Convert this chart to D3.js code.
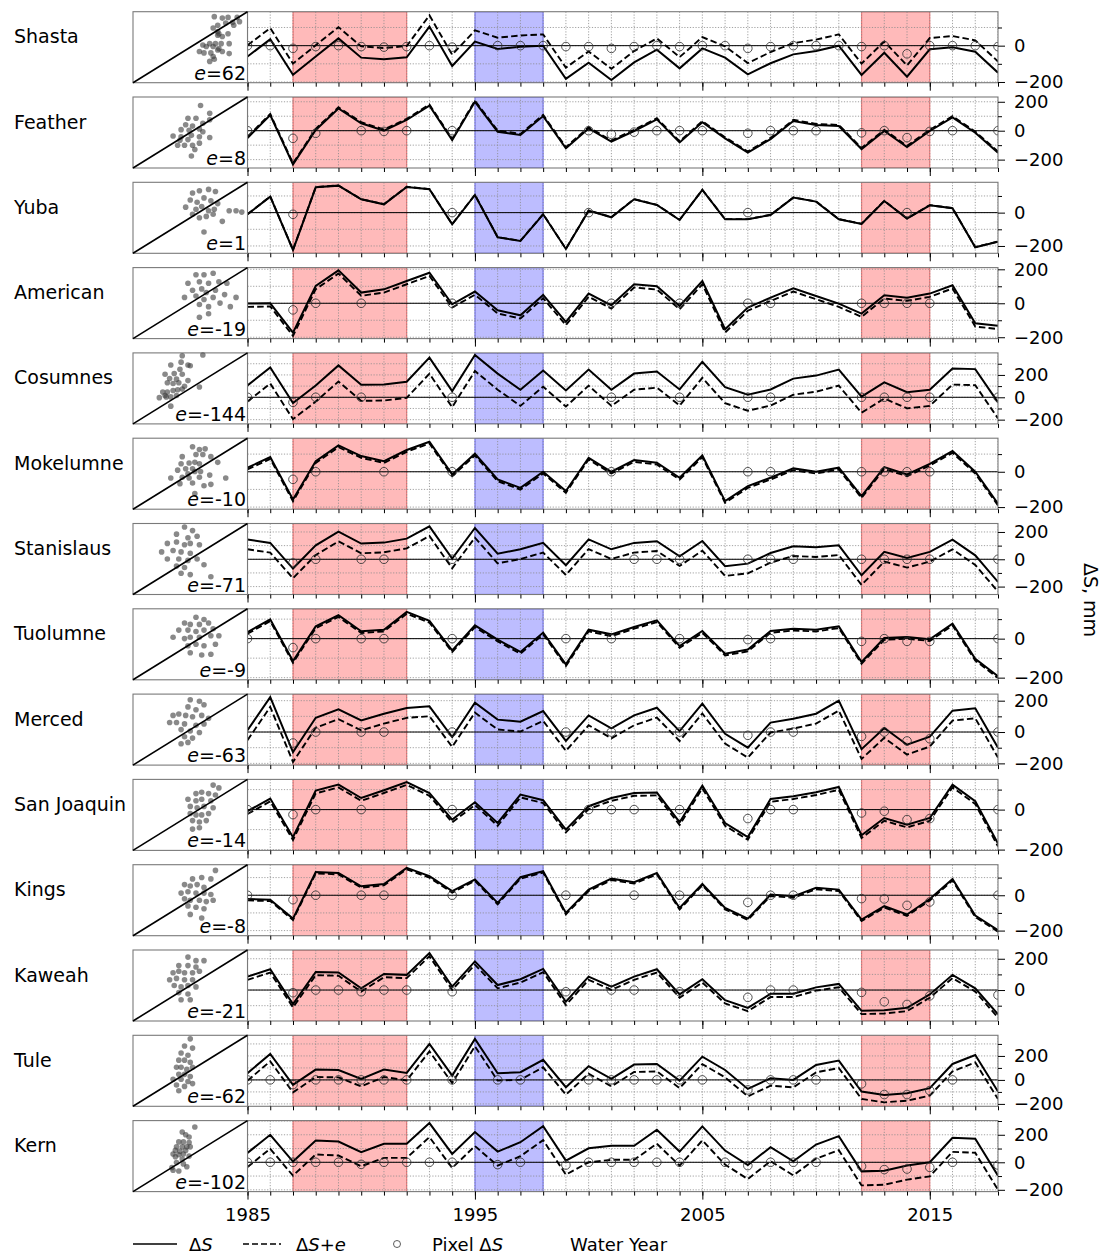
<!DOCTYPE html>
<html><head><meta charset="utf-8">
<script src="https://cdn.jsdelivr.net/npm/d3@7"></script>
<style>body{margin:0;background:#fff} text{font-family:"DejaVu Sans",sans-serif}</style>
</head><body><svg id="c" width="1101" height="1255"></svg>
<script>
// ---------------- data ----------------
const years = [1985,1986,1987,1988,1989,1990,1991,1992,1993,1994,1995,1996,1997,1998,1999,2000,2001,2002,2003,2004,2005,2006,2007,2008,2009,2010,2011,2012,2013,2014,2015,2016,2017,2018];
const basins = ["Shasta","Feather","Yuba","American","Cosumnes","Mokelumne","Stanislaus","Tuolumne","Merced","San Joaquin","Kings","Kaweah","Tule","Kern"];
const eValues = [62, 8, 1, -19, -144, -10, -71, -9, -63, -14, -8, -21, -62, -102];
const majorYearTicks = [1985, 1995, 2005, 2015];
const droughts = [[1987,1992],[2012,2015]];
const wetPeriods = [[1995,1998]];

const dsShasta = [-60,35,-161,-60,40,-66,-75,-64,105,-112,22,-18,-6,0,-183,-94,-189,-92,-22,-125,-15,-66,-158,-97,-48,-29,0,-161,-39,-171,-20,-9,-33,-149];
const dsFeather = [-50,108,-233,5,154,51,0,74,173,-65,200,-7,-30,101,-122,16,-76,-2,78,-81,58,-53,-152,-58,67,39,32,-127,-2,-113,-2,92,-14,-152];
const dsYuba = [-10,96,-224,152,162,80,50,154,140,-70,106,-148,-170,-10,-218,12,-28,80,46,-44,136,-40,-40,-14,90,66,-40,-68,70,-36,44,26,-208,-174];
const dsAmerican = [-2,0,-173,102,194,63,82,131,180,-6,69,-41,-71,49,-110,57,-12,112,100,-16,131,-153,-25,33,88,43,-2,-61,47,33,57,106,-118,-133];
const dsCosumnes = [106,267,-52,106,285,112,115,139,355,55,379,212,67,239,61,248,67,212,230,70,318,91,24,70,167,194,248,6,133,45,67,258,252,-45];
const dsMokelumne = [23,83,-157,60,149,89,60,123,170,-15,102,-43,-91,0,-109,79,0,66,51,-34,92,-166,-81,-34,19,0,23,-138,26,-15,45,117,0,-181];
const dsStanislaus = [144,120,-68,102,202,115,122,151,241,5,229,41,73,120,-44,146,73,120,132,22,134,-51,-32,46,95,88,102,-117,54,10,54,144,29,-166];
const dsTuolumne = [34,99,-115,63,120,38,46,137,91,-60,68,-5,-68,31,-132,46,22,60,94,-38,39,-77,-56,39,51,46,63,-120,3,9,-3,77,-103,-193];
const dsMerced = [11,223,-128,91,145,74,117,153,164,-32,187,79,66,134,-57,106,23,106,155,6,181,-11,-100,60,85,117,200,-109,26,-81,-30,136,151,-100];
const dsSanJoaquin = [-8,55,-138,95,125,58,97,138,83,-50,37,-67,75,47,-100,17,58,83,85,-63,120,-67,-137,53,67,87,113,-128,-42,-75,-42,125,42,-170];
const dsKings = [-21,-25,-132,132,126,51,64,155,108,23,89,-43,102,136,-100,32,94,74,126,-72,64,-72,-132,4,-6,42,32,-138,-62,-109,-21,92,-115,-198];
const dsKaweah = [86,133,-90,116,112,11,103,97,237,22,183,32,69,135,-75,86,22,86,133,-28,69,-65,-114,-24,-24,17,39,-133,-129,-114,-28,97,11,-155];
const dsTule = [56,217,-42,86,83,8,86,58,300,36,342,56,64,167,-61,114,8,128,133,-6,194,83,-75,14,0,125,161,-97,-125,-111,-69,133,208,-97];
const dsKern = [68,200,5,159,151,73,134,134,285,61,220,78,146,263,12,102,120,120,237,78,261,85,-20,110,7,129,190,-66,-61,-24,0,178,171,-98];
const dsSeries = [dsShasta,dsFeather,dsYuba,dsAmerican,dsCosumnes,dsMokelumne,dsStanislaus,dsTuolumne,dsMerced,dsSanJoaquin,dsKings,dsKaweah,dsTule,dsKern];

// Pixel ΔS: [year, value]
const pxShasta = [[1985,0],[1986,0],[1987,-15],[1988,-5],[1989,0],[1990,-5],[1991,-8],[1992,-5],[1993,0],[1994,-8],[1996,0],[1997,0],[1998,0],[1999,-5],[2000,-5],[2001,-15],[2002,-5],[2003,0],[2004,-5],[2005,0],[2006,0],[2007,-15],[2008,-5],[2009,0],[2010,0],[2011,0],[2012,-5],[2013,0],[2014,-45],[2015,0],[2016,0],[2017,0],[2018,-5]];
const pxFeather = [[1985,0],[1987,-53],[1988,-18],[1990,0],[1991,-5],[1992,0],[1994,0],[2000,0],[2001,-25],[2002,-10],[2003,0],[2004,0],[2005,0],[2007,-18],[2008,0],[2009,0],[2010,0],[2012,-15],[2013,0],[2014,-48],[2015,-5],[2016,0],[2018,0]];
const pxYuba = [[1987,-10],[1994,0],[2000,0],[2007,0],[2014,0]];
const pxAmerican = [[1987,-39],[1988,0],[1990,0],[1994,0],[2001,0],[2004,0],[2007,0],[2008,0],[2012,0],[2013,0],[2014,0],[2015,0]];
const pxCosumnes = [[1985,0],[1987,-45],[1988,0],[1990,0],[1994,0],[2001,0],[2004,0],[2007,0],[2008,0],[2012,0],[2013,0],[2014,0],[2015,0],[2018,0]];
const pxMokelumne = [[1987,-43],[1988,0],[1991,0],[1994,0],[2001,0],[2007,0],[2008,0],[2012,0],[2013,0],[2014,0],[2015,0]];
const pxStanislaus = [[1987,-27],[1988,0],[1990,0],[1991,0],[1994,0],[2002,0],[2003,0],[2004,0],[2007,0],[2008,0],[2009,0],[2012,0],[2013,0],[2014,0],[2015,0],[2018,0]];
const pxTuolumne = [[1985,0],[1987,-46],[1988,0],[1990,0],[1991,0],[1994,0],[1999,0],[2001,0],[2004,0],[2007,-5],[2008,0],[2012,-14],[2013,0],[2014,-14],[2015,-14],[2018,0]];
const pxMerced = [[1987,-70],[1988,0],[1990,0],[1991,0],[1994,0],[1999,0],[2001,0],[2004,0],[2007,-21],[2008,0],[2009,0],[2012,-28],[2013,0],[2014,-57],[2015,-43],[2018,0]];
const pxSanJoaquin = [[1985,0],[1987,-25],[1988,0],[1990,0],[1994,0],[2000,0],[2001,0],[2002,0],[2004,0],[2007,-45],[2008,0],[2009,0],[2012,-17],[2013,-8],[2014,-50],[2015,-45],[2018,0]];
const pxKings = [[1985,0],[1987,-25],[1988,0],[1990,0],[1991,0],[1994,0],[1999,0],[2002,0],[2004,0],[2007,-40],[2008,0],[2009,0],[2012,-19],[2013,-21],[2014,-57],[2015,-38],[2018,0]];
const pxKaweah = [[1987,-17],[1988,0],[1989,0],[1990,-11],[1991,0],[1992,0],[1994,-11],[1999,-11],[2001,0],[2002,0],[2004,-11],[2007,-47],[2008,0],[2009,0],[2012,-15],[2013,-75],[2014,-92],[2015,-37],[2018,-32]];
const pxTule = [[1985,0],[1986,0],[1987,-39],[1988,0],[1989,0],[1990,0],[1991,0],[1992,0],[1994,0],[1996,0],[1997,0],[2000,0],[2001,0],[2002,0],[2003,0],[2004,0],[2005,0],[2007,-83],[2008,0],[2009,0],[2010,0],[2012,-33],[2013,-122],[2014,-122],[2015,-89],[2016,0]];
const pxKern = [[1985,0],[1986,0],[1987,0],[1988,0],[1989,0],[1990,-15],[1991,0],[1992,0],[1993,0],[1994,0],[1996,-17],[1997,0],[1999,-20],[2000,0],[2001,0],[2002,0],[2003,0],[2004,0],[2006,0],[2007,-24],[2008,0],[2009,0],[2010,0],[2012,-29],[2013,-53],[2014,-49],[2015,-37],[2016,0],[2018,-20]];
const pxSeries = [pxShasta,pxFeather,pxYuba,pxAmerican,pxCosumnes,pxMokelumne,pxStanislaus,pxTuolumne,pxMerced,pxSanJoaquin,pxKings,pxKaweah,pxTule,pxKern];

// y-axis ranges (mm) of each panel
const yDomains = [[-204,187],[-258,233],[-244,182],[-208,210],[-238,397],[-212,190],[-258,262],[-211,153],[-211,242],[-204,151],[-229,173],[-198,256],[-220,372],[-213,303]];

// scatter insets, normalised to the 1:1 box
const scShasta = [[0.71,0.93],[0.78,0.91],[0.83,0.92],[0.91,0.92],[0.87,0.85],[0.81,0.84],[0.74,0.81],[0.70,0.77],[0.75,0.69],[0.83,0.69],[0.74,0.67],[0.78,0.65],[0.67,0.55],[0.72,0.55],[0.77,0.55],[0.84,0.55],[0.61,0.53],[0.64,0.51],[0.70,0.51],[0.75,0.48],[0.58,0.44],[0.62,0.42],[0.68,0.42],[0.74,0.46],[0.78,0.44],[0.84,0.41],[0.70,0.37],[0.67,0.30],[0.71,0.33],[0.88,0.81],[0.93,0.86],[0.74,0.72]];
const scFeather = [[0.59,0.88],[0.48,0.70],[0.55,0.70],[0.67,0.77],[0.46,0.61],[0.52,0.59],[0.61,0.63],[0.42,0.54],[0.49,0.53],[0.58,0.55],[0.35,0.45],[0.42,0.44],[0.51,0.46],[0.58,0.44],[0.67,0.43],[0.39,0.32],[0.45,0.32],[0.52,0.32],[0.58,0.35],[0.41,0.39],[0.48,0.40],[0.51,0.17],[0.54,0.26],[0.67,0.68],[0.61,0.51]];
const scYuba = [[0.52,0.85],[0.58,0.88],[0.66,0.90],[0.72,0.87],[0.50,0.75],[0.56,0.72],[0.62,0.78],[0.68,0.74],[0.74,0.70],[0.46,0.65],[0.55,0.62],[0.60,0.66],[0.66,0.60],[0.71,0.62],[0.84,0.60],[0.90,0.60],[0.95,0.58],[0.58,0.50],[0.64,0.52],[0.78,0.45],[0.62,0.30],[0.70,0.55],[0.52,0.55]];
const scAmerican = [[0.55,0.90],[0.62,0.90],[0.70,0.92],[0.48,0.78],[0.58,0.80],[0.66,0.78],[0.75,0.80],[0.82,0.78],[0.52,0.68],[0.60,0.70],[0.64,0.65],[0.72,0.68],[0.80,0.62],[0.90,0.58],[0.45,0.58],[0.55,0.60],[0.62,0.55],[0.70,0.58],[0.76,0.50],[0.58,0.48],[0.66,0.45],[0.85,0.45],[0.58,0.30],[0.66,0.35]];
const scCosumnes = [[0.43,0.96],[0.61,0.97],[0.33,0.83],[0.42,0.87],[0.48,0.83],[0.50,0.82],[0.41,0.77],[0.28,0.70],[0.36,0.71],[0.43,0.70],[0.32,0.64],[0.38,0.63],[0.48,0.61],[0.30,0.58],[0.35,0.57],[0.40,0.58],[0.58,0.52],[0.26,0.45],[0.30,0.45],[0.35,0.47],[0.39,0.48],[0.43,0.49],[0.23,0.37],[0.29,0.38],[0.33,0.38],[0.38,0.40],[0.33,0.25],[0.45,0.53],[0.28,0.40]];
const scMokelumne = [[0.52,0.88],[0.58,0.84],[0.63,0.85],[0.43,0.74],[0.55,0.77],[0.61,0.77],[0.68,0.74],[0.42,0.64],[0.49,0.65],[0.54,0.66],[0.58,0.64],[0.46,0.57],[0.52,0.57],[0.74,0.66],[0.39,0.55],[0.48,0.50],[0.54,0.53],[0.59,0.53],[0.67,0.48],[0.33,0.44],[0.43,0.45],[0.49,0.44],[0.58,0.45],[0.41,0.36],[0.52,0.37],[0.62,0.33],[0.68,0.35],[0.81,0.44],[0.54,0.22]];
const scStanislaus = [[0.45,0.95],[0.52,0.90],[0.38,0.85],[0.48,0.80],[0.56,0.82],[0.30,0.72],[0.38,0.74],[0.45,0.70],[0.50,0.72],[0.58,0.70],[0.25,0.60],[0.35,0.62],[0.42,0.60],[0.50,0.58],[0.30,0.50],[0.40,0.50],[0.48,0.48],[0.56,0.50],[0.38,0.40],[0.45,0.38],[0.62,0.42],[0.42,0.30],[0.50,0.28],[0.68,0.25]];
const scTuolumne = [[0.55,0.88],[0.62,0.85],[0.45,0.80],[0.50,0.78],[0.58,0.78],[0.66,0.80],[0.40,0.70],[0.48,0.70],[0.55,0.68],[0.62,0.70],[0.70,0.72],[0.35,0.60],[0.45,0.58],[0.50,0.60],[0.58,0.60],[0.68,0.62],[0.75,0.62],[0.48,0.48],[0.55,0.50],[0.62,0.48],[0.72,0.50],[0.50,0.38],[0.60,0.35],[0.68,0.36]];
const scMerced = [[0.50,0.92],[0.58,0.90],[0.62,0.85],[0.48,0.82],[0.55,0.78],[0.35,0.70],[0.40,0.72],[0.46,0.70],[0.52,0.68],[0.60,0.70],[0.66,0.66],[0.32,0.60],[0.38,0.60],[0.45,0.58],[0.55,0.56],[0.62,0.58],[0.42,0.50],[0.50,0.48],[0.58,0.46],[0.45,0.40],[0.52,0.38],[0.42,0.30],[0.48,0.32]];
const scSanJoaquin = [[0.70,0.92],[0.75,0.88],[0.55,0.80],[0.60,0.82],[0.66,0.80],[0.72,0.78],[0.48,0.72],[0.55,0.70],[0.60,0.72],[0.68,0.70],[0.50,0.62],[0.56,0.60],[0.62,0.62],[0.70,0.60],[0.50,0.52],[0.55,0.50],[0.60,0.50],[0.66,0.52],[0.52,0.42],[0.58,0.40],[0.64,0.42],[0.52,0.30],[0.58,0.32]];
const scKings = [[0.72,0.92],[0.52,0.80],[0.60,0.82],[0.68,0.80],[0.45,0.72],[0.50,0.70],[0.56,0.72],[0.62,0.68],[0.42,0.60],[0.48,0.62],[0.55,0.60],[0.62,0.60],[0.68,0.58],[0.45,0.52],[0.50,0.50],[0.58,0.50],[0.64,0.48],[0.70,0.50],[0.48,0.42],[0.55,0.40],[0.62,0.38],[0.50,0.30],[0.60,0.25]];
const scKaweah = [[0.48,0.90],[0.55,0.85],[0.62,0.85],[0.40,0.78],[0.48,0.78],[0.55,0.76],[0.35,0.68],[0.40,0.70],[0.45,0.68],[0.52,0.68],[0.58,0.70],[0.32,0.58],[0.38,0.60],[0.45,0.58],[0.52,0.58],[0.36,0.50],[0.42,0.48],[0.48,0.50],[0.55,0.48],[0.40,0.40],[0.48,0.38],[0.42,0.30],[0.50,0.30]];
const scTule = [[0.50,0.95],[0.45,0.85],[0.52,0.82],[0.42,0.75],[0.48,0.72],[0.40,0.65],[0.45,0.65],[0.50,0.62],[0.38,0.55],[0.42,0.55],[0.47,0.52],[0.52,0.55],[0.40,0.45],[0.45,0.45],[0.50,0.42],[0.35,0.38],[0.42,0.38],[0.48,0.35],[0.38,0.30],[0.45,0.28],[0.52,0.32],[0.40,0.22]];
const scKern = [[0.54,0.91],[0.43,0.84],[0.46,0.80],[0.49,0.77],[0.40,0.70],[0.44,0.70],[0.49,0.69],[0.38,0.63],[0.43,0.63],[0.47,0.63],[0.37,0.58],[0.41,0.57],[0.46,0.58],[0.35,0.53],[0.40,0.52],[0.44,0.53],[0.37,0.49],[0.43,0.46],[0.49,0.50],[0.38,0.41],[0.44,0.39],[0.35,0.30],[0.40,0.29],[0.47,0.35],[0.34,0.34],[0.50,0.63]];
const scSeries = [scShasta,scFeather,scYuba,scAmerican,scCosumnes,scMokelumne,scStanislaus,scTuolumne,scMerced,scSanJoaquin,scKings,scKaweah,scTule,scKern];

// ---------------- drawing ----------------
const svg = d3.select('#c');
const X0 = 247.5, X1 = 998, SB0 = 133, TOP0 = 11.7, STEP = 85.3, PH = 71;
const FONT = 18, FONT_L = 19;
const x = d3.scaleLinear().domain([1985, 2018]).range([X0, X1]);
const sx = d3.scaleLinear().domain([0, 1]).range([SB0, X0]);
const sy = d3.scaleLinear().domain([0, 1]).range([PH, 0]);
const frameColor = '#7a7a7a';

basins.forEach((name, i) => {
  const g = svg.append('g').attr('transform', `translate(0,${TOP0 + i * STEP})`);
  const y = d3.scaleLinear().domain(yDomains[i]).range([PH, 0]);
  const [d0, d1] = yDomains[i];
  const hundreds = d3.range(Math.ceil(d0 / 100) * 100, d1 + 0.01, 100);
  const major = hundreds.filter(v => v % 200 === 0);
  const minor = hundreds.filter(v => v % 200 !== 0);

  const cid = 'clip' + i;
  g.append('clipPath').attr('id', cid).append('rect')
    .attr('x', X0).attr('y', 0).attr('width', X1 - X0).attr('height', PH);
  const body = g.append('g').attr('clip-path', `url(#${cid})`);

  // shading
  droughts.forEach(p => body.append('rect')
    .attr('x', x(p[0])).attr('width', x(p[1]) - x(p[0])).attr('y', 0).attr('height', PH)
    .attr('fill', '#ff0000').attr('fill-opacity', 0.27)
    .attr('stroke', '#e00000').attr('stroke-opacity', 0.45).attr('stroke-width', 1.2));
  wetPeriods.forEach(p => body.append('rect')
    .attr('x', x(p[0])).attr('width', x(p[1]) - x(p[0])).attr('y', 0).attr('height', PH)
    .attr('fill', '#0000ff').attr('fill-opacity', 0.26)
    .attr('stroke', '#0000e0').attr('stroke-opacity', 0.45).attr('stroke-width', 1.2));

  // grid
  body.selectAll('.vg').data(years).enter().append('line')
    .attr('x1', d => x(d)).attr('x2', d => x(d)).attr('y1', 0).attr('y2', PH)
    .attr('stroke', '#8a8a8a').attr('stroke-width', 0.8).attr('stroke-dasharray', '1.2,1.6');
  body.selectAll('.hg').data(hundreds).enter().append('line')
    .attr('x1', X0).attr('x2', X1).attr('y1', d => y(d)).attr('y2', d => y(d))
    .attr('stroke', '#8a8a8a').attr('stroke-width', 0.8).attr('stroke-dasharray', '1.2,1.6');
  // zero line
  body.append('line').attr('x1', X0).attr('x2', X1).attr('y1', y(0)).attr('y2', y(0))
    .attr('stroke', '#000').attr('stroke-width', 1);

  const ds = dsSeries[i];
  const line = d3.line().x((d, k) => x(years[k])).y(d => y(d));
  // ΔS + e (dashed)
  body.append('path').datum(ds.map(v => v + eValues[i])).attr('d', line)
    .attr('fill', 'none').attr('stroke', '#000').attr('stroke-width', 1.9)
    .attr('stroke-dasharray', '6.5,3.2');
  // ΔS (solid)
  body.append('path').datum(ds).attr('d', line)
    .attr('fill', 'none').attr('stroke', '#000').attr('stroke-width', 2)
    .attr('stroke-linejoin', 'miter');
  // Pixel ΔS
  body.selectAll('.px').data(pxSeries[i]).enter().append('circle')
    .attr('cx', d => x(d[0])).attr('cy', d => y(d[1])).attr('r', 4.3)
    .attr('fill', 'none').attr('stroke', '#333').attr('stroke-width', 0.85);

  // frame
  g.append('rect').attr('x', X0).attr('y', 0).attr('width', X1 - X0).attr('height', PH)
    .attr('fill', 'none').attr('stroke', frameColor).attr('stroke-width', 1.1);

  // right axis
  const ra = g.append('g').attr('transform', `translate(${X1},0)`)
    .call(d3.axisRight(y).tickValues(major).tickSize(7).tickPadding(9).tickFormat(d3.format('d')));
  ra.select('.domain').remove();
  ra.selectAll('text').attr('font-size', FONT).attr('font-family', '"DejaVu Sans"').attr('fill', '#000');
  const rm = g.append('g').attr('transform', `translate(${X1},0)`)
    .call(d3.axisRight(y).tickValues(minor).tickSize(4).tickFormat(''));
  rm.select('.domain').remove();

  // bottom axis
  const bm = g.append('g').attr('transform', `translate(0,${PH})`)
    .call(d3.axisBottom(x).tickValues(years).tickSize(4).tickFormat(''));
  bm.select('.domain').remove();
  const isLast = i === basins.length - 1;
  const ba = g.append('g').attr('transform', `translate(0,${PH})`)
    .call(d3.axisBottom(x).tickValues(majorYearTicks).tickSize(8).tickPadding(9)
      .tickFormat(isLast ? d3.format('d') : ''));
  ba.select('.domain').remove();
  ba.selectAll('text').attr('font-size', FONT).attr('font-family', '"DejaVu Sans"').attr('fill', '#000');
  g.selectAll('.tick line').attr('stroke', '#000').attr('stroke-width', 1);

  // scatter inset
  g.append('rect').attr('x', SB0).attr('y', 0).attr('width', X0 - SB0).attr('height', PH)
    .attr('fill', '#fff').attr('stroke', frameColor).attr('stroke-width', 1.1);
  g.selectAll('.sc').data(scSeries[i]).enter().append('circle')
    .attr('cx', d => sx(d[0])).attr('cy', d => sy(d[1])).attr('r', 2.8)
    .attr('fill', '#3a3a3a').attr('fill-opacity', 0.6);
  g.append('line').attr('x1', sx(0)).attr('y1', sy(0)).attr('x2', sx(1)).attr('y2', sy(1))
    .attr('stroke', '#000').attr('stroke-width', 1.6);
  const et = g.append('text').attr('x', X0 - 1.5).attr('y', PH - 3)
    .attr('text-anchor', 'end').attr('font-size', FONT_L);
  et.append('tspan').attr('font-style', 'italic').text('e');
  et.append('tspan').text('=' + eValues[i]);

  // basin name
  g.append('text').attr('x', 14).attr('y', 31.5).attr('font-size', FONT_L).text(name);
});

// y label
svg.append('text').attr('transform', 'translate(1091,600) rotate(90)')
  .attr('text-anchor', 'middle').attr('dy', '0.35em').attr('font-size', FONT_L)
  .html('ΔS, mm');

// legend
const LY = 1244;
svg.append('line').attr('x1', 133).attr('x2', 177).attr('y1', LY).attr('y2', LY)
  .attr('stroke', '#000').attr('stroke-width', 1.6);
const t1 = svg.append('text').attr('x', 189).attr('y', LY + 6.5).attr('font-size', FONT);
t1.append('tspan').text('Δ'); t1.append('tspan').attr('font-style', 'italic').text('S');
svg.append('line').attr('x1', 243).attr('x2', 281).attr('y1', LY).attr('y2', LY)
  .attr('stroke', '#000').attr('stroke-width', 1.6).attr('stroke-dasharray', '6,3');
const t2 = svg.append('text').attr('x', 296).attr('y', LY + 6.5).attr('font-size', FONT);
t2.append('tspan').text('Δ'); t2.append('tspan').attr('font-style', 'italic').text('S');
t2.append('tspan').text('+'); t2.append('tspan').attr('font-style', 'italic').text('e');
svg.append('circle').attr('cx', 397).attr('cy', LY).attr('r', 3.5)
  .attr('fill', 'none').attr('stroke', '#333').attr('stroke-width', 0.8);
const t3 = svg.append('text').attr('x', 432).attr('y', LY + 6.5).attr('font-size', FONT);
t3.append('tspan').text('Pixel Δ'); t3.append('tspan').attr('font-style', 'italic').text('S');
svg.append('text').attr('x', 570).attr('y', LY + 6.5).attr('font-size', FONT).text('Water Year');
</script></body></html>
